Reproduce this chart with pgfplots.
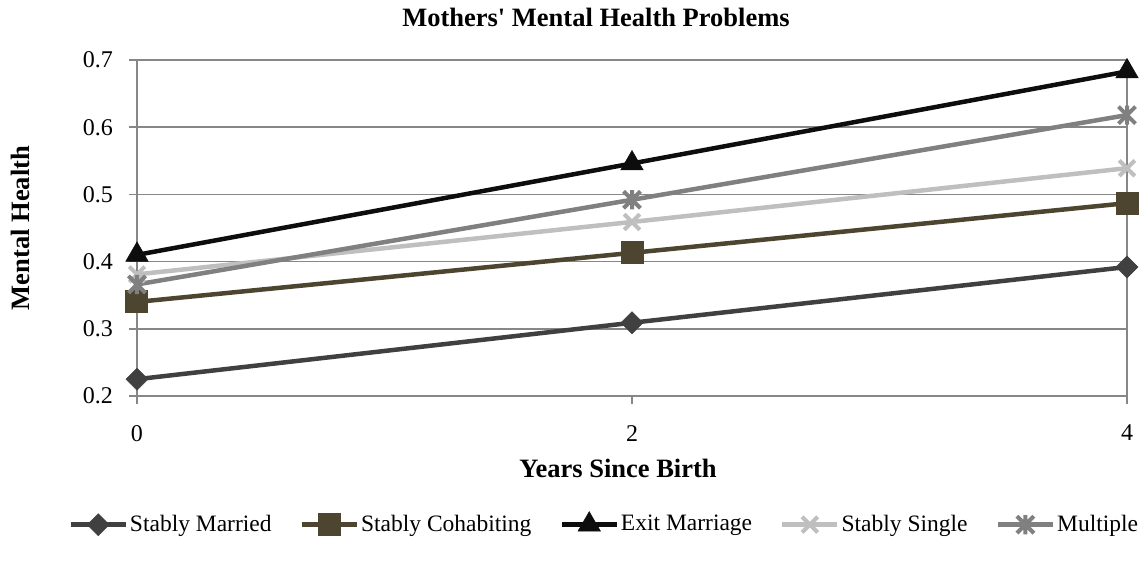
\documentclass[border=0pt]{standalone}
\usepackage{fontspec}
\setmainfont{Liberation Serif}
\usepackage{pgfplots}
\pgfplotsset{compat=1.18}
\usetikzlibrary{calc}
\definecolor{gridc}{HTML}{878787}
\definecolor{cMar}{HTML}{404040}
\definecolor{cCoh}{HTML}{4D4530}
\definecolor{cExi}{HTML}{0D0D0D}
\definecolor{cSin}{HTML}{BFBFBF}
\definecolor{cMul}{HTML}{808080}
\pgfdeclareplotmark{xstar}{%
  \pgfpathmoveto{\pgfqpoint{-.707\pgfplotmarksize}{-.707\pgfplotmarksize}}%
  \pgfpathlineto{\pgfqpoint{.707\pgfplotmarksize}{.707\pgfplotmarksize}}%
  \pgfpathmoveto{\pgfqpoint{-.707\pgfplotmarksize}{.707\pgfplotmarksize}}%
  \pgfpathlineto{\pgfqpoint{.707\pgfplotmarksize}{-.707\pgfplotmarksize}}%
  \pgfpathmoveto{\pgfqpoint{0pt}{-.8\pgfplotmarksize}}%
  \pgfpathlineto{\pgfqpoint{0pt}{.8\pgfplotmarksize}}%
  \pgfusepathqstroke}
\pgfplotstableread{
x married cohab exit single multiple
0 0.225 0.340 0.410 0.381 0.366
2 0.309 0.413 0.546 0.459 0.492
4 0.392 0.487 0.683 0.539 0.618
}\datatable
\begin{document}
\fontsize{21}{25}\selectfont
\begin{tikzpicture}
\begin{axis}[
  scale only axis, width=990pt, height=336pt,
  xmin=0, xmax=4, ymin=0.2, ymax=0.7,
  xtick={0,2,4}, ytick={0.2,0.3,0.4,0.5,0.6,0.7},
  xtick pos=bottom, ytick pos=left,
  yticklabel style={/pgf/number format/fixed, /pgf/number format/fixed zerofill, /pgf/number format/precision=1, /tikz/xshift=-9pt},
  /pgf/number format/assume math mode=true,
  ticklabel style={font=\fontsize{24}{28}\selectfont},
  xticklabel style={yshift=-14pt},
  tick align=outside, major tick length=8pt,
  tick style={gridc, line width=1.5pt},
  axis line style={gridc, line width=1.5pt},
  ymajorgrids, grid style={gridc, line width=1.5pt},
  title={Mothers\textquotesingle{} Mental Health Problems},
  title style={at={(rel axis cs:0.4636,1.109)}, anchor=center, font=\fontsize{26.5}{30}\selectfont\bfseries},
  xlabel={Years Since Birth},
  every axis x label/.style={at={(rel axis cs:0.4859,-0.217)}, anchor=center, font=\fontsize{26.5}{30}\selectfont\bfseries},
  ylabel={Mental Health},
  every axis y label/.style={at={(rel axis cs:-0.1182,0.5)}, rotate=90, anchor=center, font=\fontsize{26.5}{30}\selectfont\bfseries},
  legend columns=5,
  legend style={at={(rel axis cs:0.472,-0.381)}, anchor=center, draw=none, fill=none,
    font=\fontsize{23.5}{27}\selectfont,
    /tikz/every even column/.append style={column sep=26pt},
    inner sep=0pt},
  legend cell align=left,
  legend image code/.code={\draw[mark repeat=2, mark phase=2, #1] plot coordinates {(0pt,0pt) (27.5pt,0pt) (55pt,0pt)};},
  every axis plot/.append style={line width=4.5pt},
]
\addplot[cMar, mark=square*, mark size=7.8pt, mark options={rotate=45, line width=0.5pt, fill=cMar}] table[x=x,y=married]{\datatable};
\addlegendentry{Stably Married}
\addplot[cCoh, mark=square*, mark size=11pt, mark options={line width=1pt, rounded corners=2pt, fill=cCoh}] table[x=x,y=cohab]{\datatable};
\addlegendentry{Stably Cohabiting}
\addplot[cExi, mark=triangle*, mark size=13pt, mark options={line width=0.5pt, fill=cExi}] table[x=x,y=exit]{\datatable};
\addlegendentry{Exit Marriage}
\addplot[cSin, mark=x, mark size=11pt, mark options={line width=4pt}] table[x=x,y=single]{\datatable};
\addlegendentry{Stably Single}
\addplot[cMul, mark=xstar, mark size=12pt, mark options={line width=4pt}] table[x=x,y=multiple]{\datatable};
\addlegendentry{Multiple}
\coordinate (bl) at (rel axis cs:0,0);
\coordinate (tr) at (rel axis cs:1,1);
\end{axis}
\pgfresetboundingbox
\useasboundingbox ($(bl)+(-137pt,-169pt)$) rectangle ($(tr)+(15pt,60pt)$);
\end{tikzpicture}
\end{document}
